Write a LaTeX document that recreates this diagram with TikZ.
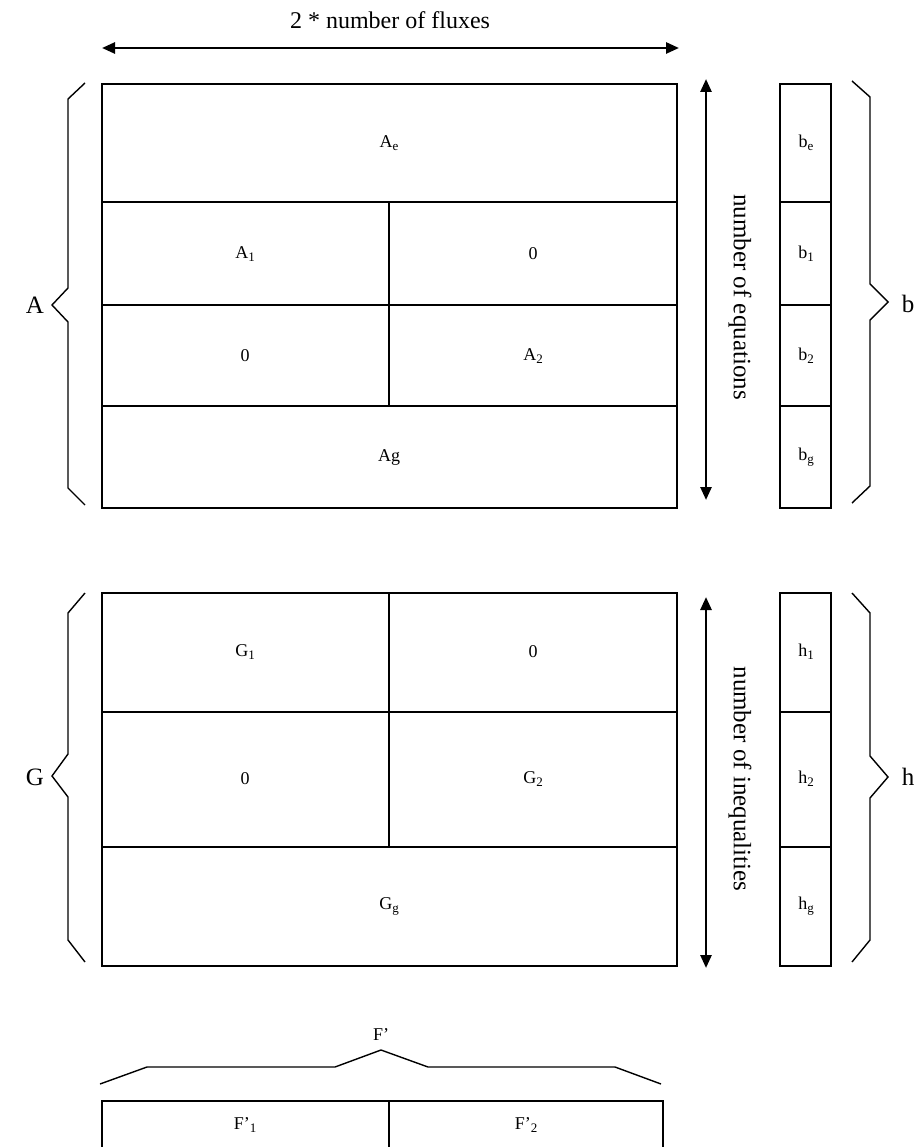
\documentclass[tikz,border=0pt]{standalone}
\usepackage{fontspec}
\setmainfont{Liberation Serif}
\usetikzlibrary{arrows.meta}
\newcommand\mysub[1]{\raisebox{-0.35ex}{\fontsize{13}{13}\selectfont #1}}
\begin{document}
\begin{tikzpicture}[x=1pt,y=-1pt,
  box/.style={draw=black,line width=1.3pt},
  cell/.style={font=\fontsize{18}{20}\selectfont, inner sep=0pt},
  big/.style={font=\fontsize{25}{28}\selectfont, inner sep=0pt},
  brace/.style={draw=black,line width=1.4pt},
  dim/.style={line width=2.6pt, {Triangle[length=13pt,width=11pt]}-{Triangle[length=13pt,width=11pt]}}]
\useasboundingbox (0,0) rectangle (916,1147);

% ---- top dimension arrow
\coordinate (tl) at (102,48);
\coordinate (tr) at (679,48);
\draw[dim] (tl) -- (tr);
\node[big,font=\fontsize{24}{27}\selectfont] (flux) at (390,20) {2 * number of fluxes};

% ---- matrix A
\draw[box] (102,84) rectangle (677,508);
\draw[box] (102,202) -- (677,202);
\draw[box] (102,305) -- (677,305);
\draw[box] (102,406) -- (677,406);
\draw[box] (389,202) -- (389,406);
\node[cell] (Ae) at (389,143) {A\mysub{e}};
\node[cell] (A1) at (245,254) {A\mysub{1}};
\node[cell] (A10) at (533,254) {0};
\node[cell] (A20) at (245,356) {0};
\node[cell] (A2) at (533,356) {A\mysub{2}};
\node[cell] (Ag) at (389,457) {Ag};

% ---- vector b
\draw[box] (780,84) rectangle (831,508);
\draw[box] (780,202) -- (831,202);
\draw[box] (780,305) -- (831,305);
\draw[box] (780,406) -- (831,406);
\node[cell] (be) at (806,143) {b\mysub{e}};
\node[cell] (b1) at (806,254) {b\mysub{1}};
\node[cell] (b2) at (806,356) {b\mysub{2}};
\node[cell] (bg) at (806,457) {b\mysub{g}};

% ---- equations arrow
\coordinate (et) at (706,79);
\coordinate (eb) at (706,500);
\draw[dim] (et) -- (eb);
\node[big,rotate=-90] (eq) at (740,297) {number of equations};

% ---- braces A, b
\draw[brace] (85,83) -- (68,99) -- (68,288) -- (52,305) -- (68,322) -- (68,488) -- (85,505);
\node[big] (Alab) at (35,305) {A};
\draw[brace] (852,81) -- (870,97) -- (870,284) -- (888,302) -- (870,320) -- (870,486) -- (852,503);
\node[big] (blab) at (908,304) {b};

% ---- matrix G
\draw[box] (102,593) rectangle (677,966);
\draw[box] (102,712) -- (677,712);
\draw[box] (102,847) -- (677,847);
\draw[box] (389,593) -- (389,847);
\node[cell] (G1) at (245,652) {G\mysub{1}};
\node[cell] (G10) at (533,652) {0};
\node[cell] (G20) at (245,779) {0};
\node[cell] (G2) at (533,779) {G\mysub{2}};
\node[cell] (Gg) at (389,906) {G\mysub{g}};

% ---- vector h
\draw[box] (780,593) rectangle (831,966);
\draw[box] (780,712) -- (831,712);
\draw[box] (780,847) -- (831,847);
\node[cell] (h1) at (806,652) {h\mysub{1}};
\node[cell] (h2) at (806,779) {h\mysub{2}};
\node[cell] (hg) at (806,906) {h\mysub{g}};

% ---- inequalities arrow
\coordinate (it) at (706,597);
\coordinate (ib) at (706,968);
\draw[dim] (it) -- (ib);
\node[big,rotate=-90] (ineq) at (740,779) {number of inequalities};

% ---- braces G, h
\draw[brace] (85,593) -- (68,613) -- (68,754) -- (52,776) -- (68,797) -- (68,940) -- (85,962);
\node[big] (Glab) at (35,777) {G};
\draw[brace] (852,593) -- (870,613) -- (870,756) -- (888,777) -- (870,798) -- (870,940) -- (852,962);
\node[big] (hlab) at (908,777) {h};

% ---- F' brace and box
\draw[brace] (100,1084) -- (147,1067) -- (335,1067) -- (381,1050) -- (428,1067) -- (615,1067) -- (661,1084);
\node[cell] (Fp) at (381,1035) {F’};
\draw[box] (102,1160) -- (102,1101) -- (663,1101) -- (663,1160);
\draw[box] (389,1101) -- (389,1160);
\node[cell] (F1) at (245,1125) {F’\mysub{1}};
\node[cell] (F2) at (526,1125) {F’\mysub{2}};
\end{tikzpicture}
\end{document}
